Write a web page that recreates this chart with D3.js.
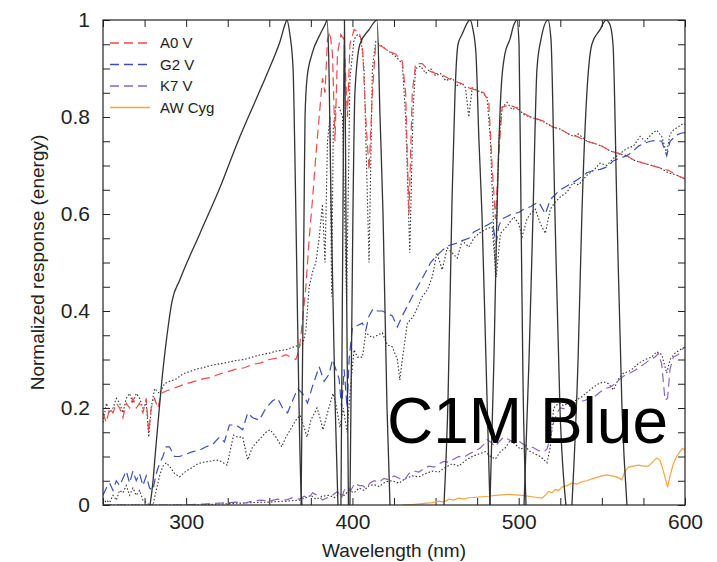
<!DOCTYPE html>
<html>
<head>
<meta charset="utf-8">
<script src="https://cdn.jsdelivr.net/npm/d3@7"></script>
<style>
body { margin: 0; background: #fff; }
text { font-family: "Liberation Sans", Arial, Helvetica, sans-serif; }
</style>
</head>
<body>
<script>
// wavelength (nm), normalized response
const a0v = [[250,0.19],[252,0.17],[254,0.2],[256,0.19],[258,0.21],[260,0.2],[262,0.18],[264,0.21],[266,0.2],[268,0.22],[270,0.2],[272,0.21],[274,0.19],[276,0.22],[277.5,0.15],[279,0.2],[281,0.22],[283,0.2],[285,0.23],[288,0.235],[292,0.24],[296,0.245],[300,0.25],[305,0.255],[310,0.26],[315,0.263],[320,0.27],[325,0.275],[330,0.28],[335,0.283],[340,0.29],[345,0.293],[350,0.3],[355,0.303],[360,0.31],[363,0.305],[366,0.3],[368,0.32],[370,0.38],[372,0.45],[374,0.55],[376,0.63],[378,0.72],[380,0.8],[382,0.88],[383.5,0.85],[385,0.96],[386.5,0.975],[388,0.93],[389.5,0.75],[391,0.93],[393,0.97],[395,0.96],[397,0.8],[398.5,0.95],[401,0.98],[404,0.975],[406,0.95],[408,0.8],[410,0.69],[412,0.85],[414,0.95],[418,0.945],[422,0.935],[426,0.93],[430,0.915],[432,0.85],[434,0.6],[436,0.85],[438,0.91],[442,0.91],[446,0.895],[450,0.89],[455,0.885],[460,0.875],[465,0.87],[470,0.86],[475,0.855],[479,0.85],[482,0.83],[484,0.7],[486,0.59],[488,0.72],[490,0.82],[494,0.825],[498,0.82],[502,0.81],[507,0.8],[512,0.795],[516,0.79],[520,0.78],[525,0.775],[530,0.765],[535,0.76],[541,0.75],[546,0.745],[550,0.74],[555,0.73],[560,0.725],[565,0.72],[570,0.71],[575,0.705],[580,0.7],[585,0.695],[590,0.69],[595,0.68],[600,0.673]];

const a0vAlt = [[250,0.17],[252,0.21],[254,0.19],[256,0.2],[258,0.22],[260,0.21],[262,0.19],[264,0.22],[266,0.23],[268,0.21],[270,0.23],[272,0.22],[274,0.2],[276,0.21],[277.5,0.14],[279,0.2],[281,0.24],[284,0.23],[287,0.25],[290,0.255],[294,0.26],[298,0.27],[302,0.275],[306,0.28],[310,0.283],[314,0.287],[318,0.29],[322,0.292],[326,0.295],[330,0.298],[335,0.3],[340,0.305],[345,0.31],[350,0.313],[355,0.318],[360,0.32],[364,0.325],[368,0.33],[370,0.33],[372,0.36],[374,0.45],[376,0.48],[378,0.5],[380,0.55],[382,0.62],[383.5,0.5],[385,0.75],[386.5,0.8],[387.5,0.43],[388.5,0.78],[390,0.82],[392,0.82],[394,0.8],[396.5,0.42],[398.5,0.88],[401,0.96],[403,0.97],[405,0.965],[407,0.9],[410,0.5],[412,0.9],[414,0.955],[418,0.945],[422,0.935],[426,0.925],[430,0.91],[432,0.8],[434.5,0.52],[436.5,0.82],[438,0.9],[441,0.905],[444,0.89],[447,0.9],[450,0.885],[453,0.89],[456,0.875],[460,0.88],[463,0.865],[466,0.87],[468,0.86],[470,0.8],[472,0.86],[475,0.855],[478,0.85],[481,0.84],[483,0.75],[486,0.47],[488,0.75],[490,0.82],[493,0.83],[496,0.815],[499,0.82],[503,0.805],[507,0.8],[511,0.795],[515,0.79],[520,0.78],[525,0.775],[530,0.765],[533,0.76],[536,0.765],[541,0.75],[546,0.745],[550,0.74],[555,0.73],[560,0.725],[565,0.72],[570,0.71],[575,0.705],[580,0.7],[585,0.695],[590,0.685],[595,0.68],[600,0.672]];

const g2v = [[250,0.02],[252,0.035],[254,0.045],[256,0.03],[258,0.05],[260,0.04],[262,0.055],[264,0.07],[266,0.045],[268,0.07],[270,0.05],[272,0.065],[274,0.04],[276,0.06],[278,0.035],[280,0.03],[282,0.065],[284,0.085],[286,0.1],[288,0.12],[290,0.12],[293,0.1],[296,0.1],[300,0.105],[304,0.11],[308,0.113],[312,0.12],[316,0.125],[320,0.14],[323,0.13],[326,0.165],[330,0.165],[334,0.155],[337,0.19],[340,0.18],[344,0.175],[348,0.2],[352,0.215],[355,0.22],[358,0.2],[361,0.19],[364,0.215],[367,0.24],[370,0.23],[373,0.21],[376,0.245],[380,0.285],[383,0.255],[386,0.27],[388,0.3],[390,0.28],[392,0.26],[393.5,0.2],[395,0.28],[396.8,0.2],[398,0.3],[400,0.367],[403,0.37],[406,0.375],[408,0.36],[410,0.39],[412.5,0.405],[415,0.4],[418,0.4],[421,0.395],[424,0.39],[427,0.367],[430,0.39],[433,0.41],[436,0.43],[440,0.455],[444,0.48],[447,0.5],[451,0.515],[454,0.525],[458,0.535],[463,0.54],[466,0.545],[470,0.55],[473,0.563],[477,0.57],[481,0.577],[484,0.583],[486.5,0.54],[488,0.575],[490,0.59],[493,0.595],[496,0.6],[500,0.603],[503,0.61],[507,0.615],[512,0.625],[516,0.6],[519,0.63],[525,0.65],[530,0.66],[535,0.67],[541,0.685],[545,0.69],[549,0.692],[553,0.697],[557,0.71],[561,0.715],[565,0.72],[569,0.73],[572,0.74],[575,0.745],[579,0.75],[583,0.752],[586,0.75],[589,0.72],[591,0.75],[595,0.763],[598,0.767],[600,0.768]];

const g2vAlt = [[250,0.0],[252,0.01],[254,0.005],[256,0.02],[258,0.01],[260,0.03],[262,0.025],[264,0.04],[266,0.02],[268,0.035],[270,0.02],[272,0.03],[274,0.01],[276,0.005],[278,0.0],[280,0.0],[282,0.03],[284,0.06],[286,0.08],[288,0.087],[290,0.08],[293,0.065],[296,0.058],[300,0.07],[304,0.078],[307,0.085],[310,0.088],[314,0.09],[318,0.093],[321,0.09],[324.6,0.082],[327,0.12],[328.5,0.144],[331,0.14],[334,0.14],[337,0.093],[340,0.12],[344,0.135],[348,0.15],[350.5,0.155],[354,0.14],[357.5,0.12],[360,0.14],[363.5,0.16],[366,0.175],[368.5,0.185],[371,0.16],[372.7,0.14],[375,0.175],[378.7,0.2],[380.5,0.18],[382.3,0.155],[385,0.19],[388.3,0.23],[390,0.21],[392.5,0.16],[394.5,0.2],[396.8,0.15],[399,0.25],[401,0.32],[403,0.305],[406,0.305],[408,0.355],[412,0.345],[415,0.35],[418,0.355],[421,0.33],[424,0.326],[427,0.3],[428.5,0.258],[430,0.3],[433,0.375],[436.5,0.388],[439.5,0.41],[442,0.43],[445,0.443],[448,0.47],[450.8,0.52],[454,0.485],[457,0.53],[460,0.52],[463,0.509],[466,0.545],[470,0.532],[473,0.55],[476,0.56],[481,0.57],[484,0.573],[486.5,0.47],[489,0.56],[493,0.575],[497,0.594],[500,0.58],[502,0.553],[505,0.59],[507,0.6],[510,0.61],[513,0.58],[516,0.56],[519,0.61],[522,0.625],[525,0.635],[529,0.645],[532.6,0.664],[536,0.66],[541,0.68],[545,0.69],[549,0.705],[553,0.7],[557,0.715],[561,0.725],[565,0.735],[569,0.74],[573,0.76],[576,0.75],[580,0.765],[583,0.773],[586,0.76],[589,0.725],[591,0.765],[593,0.773],[596,0.78],[599,0.787],[600,0.785]];

const k7v = [[250,0.0],[300,0.0],[310,0.002],[320,0.004],[330,0.006],[335,0.004],[340,0.008],[345,0.01],[350,0.008],[355,0.012],[360,0.01],[364,0.015],[368,0.012],[371,0.018],[374,0.015],[376,0.025],[379,0.02],[382,0.01],[385,0.015],[388,0.02],[391,0.028],[393.5,0.015],[395,0.03],[397,0.037],[399,0.03],[401.5,0.045],[404,0.04],[406,0.04],[408,0.035],[410.5,0.045],[413,0.05],[416,0.047],[419,0.055],[422,0.052],[425,0.06],[428,0.055],[431,0.05],[434,0.065],[437,0.07],[440,0.068],[443,0.075],[446,0.08],[449,0.078],[452,0.085],[455,0.09],[458,0.088],[461,0.095],[464,0.1],[467,0.098],[470,0.105],[473,0.11],[476.7,0.117],[479,0.125],[481,0.135],[483,0.13],[486,0.12],[488,0.13],[491,0.14],[494,0.135],[497,0.128],[500,0.132],[503,0.125],[506,0.12],[509,0.118],[512,0.112],[515,0.11],[517,0.115],[519,0.14],[521,0.17],[523,0.19],[525,0.2],[528,0.198],[531,0.205],[534,0.21],[537,0.213],[540,0.216],[543,0.22],[546,0.225],[549,0.233],[552,0.24],[555,0.243],[558,0.25],[561,0.26],[564,0.268],[567,0.272],[570,0.278],[573,0.285],[576,0.292],[579,0.3],[582,0.305],[584,0.313],[586,0.29],[588,0.216],[589.5,0.22],[591,0.28],[593,0.305],[596,0.31],[598,0.32],[600,0.326]];

const k7vAlt = [[250,0.0],[305,0.0],[320,0.002],[340,0.005],[350,0.006],[360,0.008],[368,0.01],[372,0.015],[375,0.02],[378,0.012],[382,0.018],[386,0.02],[389,0.015],[392,0.022],[395,0.02],[398,0.03],[401,0.025],[404,0.035],[407,0.03],[410,0.04],[413,0.042],[416,0.038],[420,0.048],[424,0.05],[428,0.045],[432,0.055],[436,0.06],[440,0.058],[444,0.065],[448,0.07],[452,0.068],[456,0.078],[460,0.085],[464,0.08],[468,0.092],[472,0.1],[476,0.105],[480,0.11],[483,0.1],[486,0.095],[489,0.11],[492,0.118],[495,0.134],[498,0.125],[501,0.115],[504,0.12],[507,0.11],[510,0.105],[513,0.1],[517,0.087],[519,0.12],[521,0.2],[524,0.21],[527,0.205],[530,0.21],[534,0.215],[538,0.223],[542,0.235],[545,0.243],[548,0.25],[551,0.254],[554,0.25],[557,0.237],[560,0.26],[563,0.272],[566,0.275],[569,0.282],[572,0.292],[576,0.3],[580,0.305],[583,0.316],[586,0.31],[589,0.272],[591,0.3],[594,0.313],[597,0.32],[600,0.326]];

const awCyg = [[430,0.0],[436,0.001],[442,0.003],[448,0.005],[452,0.008],[455,0.006],[458,0.012],[461,0.01],[464,0.014],[467,0.012],[470,0.015],[474,0.016],[478,0.017],[482,0.018],[486,0.02],[490,0.021],[494,0.022],[498,0.021],[502,0.02],[506,0.018],[510,0.016],[514,0.014],[516,0.02],[518,0.028],[520,0.025],[522,0.032],[524,0.03],[526,0.037],[529,0.04],[532,0.045],[535,0.043],[538,0.048],[541,0.05],[544,0.054],[547,0.057],[550,0.06],[553,0.062],[556,0.06],[559,0.058],[562,0.052],[564,0.07],[566,0.078],[569,0.08],[572,0.082],[575,0.08],[578,0.08],[581,0.09],[583,0.097],[585,0.092],[587,0.07],[589.5,0.037],[591,0.06],[593,0.085],[595,0.1],[597,0.11],[598.5,0.117],[600,0.113]];

// filter transmission curves
const filter1 = [[278.3,0],[280.1,0.05],[281.3,0.1],[283.1,0.17],[286.1,0.28],[288.5,0.35],[291.5,0.42],[296.3,0.465],[308.3,0.56],[320.4,0.655],[330.6,0.745],[344.4,0.855],[352.2,0.918],[356.4,0.955],[359.4,0.99],[360.6,1.0],[362.4,0.97],[364.3,0.9],[365.5,0.7],[366.7,0.45],[367.9,0.2],[369.1,0.03],[369.7,0]];
const filter2 = [[369.1,0],[370,0.3],[370.9,0.6],[371.5,0.8],[372.7,0.88],[375.7,0.93],[380.5,0.97],[384.1,0.995],[384.7,1.0],[385.9,0.9],[387.1,0.63],[389.5,0.22],[391.3,0]];
const filter3 = [[393.1,0],[394.3,0.6],[395.2,1.0],[396.1,0.6],[397.6,0]];
const filter4 = [[398.5,0],[400.3,0.6],[401.5,0.85],[404.5,0.95],[410,0.98],[414.8,1.0],[416.6,0.8],[418.4,0.6],[420.8,0.2],[422.6,0]];
const filter5 = [[455.05,0],[457.5,0.22],[459.9,0.63],[461.7,0.85],[463.5,0.95],[465.9,0.97],[470.7,1.0],[472.5,0.98],[474.3,0.93],[476.1,0.75],[477.9,0.6],[480.3,0.3],[482.7,0]];
const filter6 = [[482.7,0],[485.1,0.3],[486.9,0.6],[489.3,0.85],[491.7,0.93],[494.7,0.96],[497.1,0.99],[498.9,1.0],[500.2,0.95],[501.4,0.6],[502.6,0.25],[504.4,0]];
const filter7 = [[503.2,0],[506.2,0.3],[508.6,0.6],[511,0.9],[513.4,0.96],[517.6,1.0],[519.4,0.96],[521.8,0.6],[524.8,0.2],[528.4,0]];
const filter8 = [[532,0],[535.7,0.3],[538,0.6],[541,0.85],[544,0.95],[548.9,0.98],[552.5,1.0],[554.9,0.99],[556.7,0.95],[559.1,0.6],[562.1,0.2],[565.1,0]];

const legendLabels = ['A0 V', 'G2 V', 'K7 V', 'AW Cyg'];
const legendColors = ['#ee4a4a', '#3c4fb8', '#8c66bf', '#f5a443'];
const xLabelTicks = [300, 400, 500, 600];
const yLabelTicks = [0, 0.2, 0.4, 0.6, 0.8, 1];

function draw() {
    const margin = {top: 20, right: 32, bottom: 57, left: 103};
    const width = 717 - margin.left - margin.right;
    const height = 562 - margin.top - margin.bottom;

    const x = d3.scaleLinear().domain([250, 600]).range([0, width]);
    const y = d3.scaleLinear().domain([0, 1]).range([height, 0]);

    const svg = d3.select('body').append('svg')
        .attr('width', 717)
        .attr('height', 562);

    svg.append('defs').append('clipPath').attr('id', 'clip')
        .append('rect').attr('width', width).attr('height', height);

    const main = svg.append('g')
        .attr('transform', 'translate(' + margin.left + ',' + margin.top + ')');

    const xMinor = d3.range(250, 601, 25);
    const yMinor = d3.range(0, 1.0001, 0.05).map(v => +v.toFixed(2));
    const xFmt = d => xLabelTicks.includes(d) ? String(d) : '';
    const yFmt = d => yLabelTicks.some(v => Math.abs(v - d) < 1e-6) ? String(+d.toFixed(1)) : '';

    const styleAxis = g => {
        g.select('.domain').remove();
        g.selectAll('.tick line').attr('stroke', '#222');
        g.selectAll('text').attr('font-size', 21).attr('fill', '#222');
    };

    main.append('g')
        .attr('transform', 'translate(0,' + height + ')')
        .call(d3.axisBottom(x).tickValues(xMinor).tickSize(-7).tickPadding(9).tickFormat(xFmt))
        .call(styleAxis);
    main.append('g')
        .call(d3.axisTop(x).tickValues(xMinor).tickSize(-7).tickFormat(''))
        .call(styleAxis);
    main.append('g')
        .call(d3.axisLeft(y).tickValues(yMinor).tickSize(-7).tickPadding(13).tickFormat(yFmt))
        .call(styleAxis);
    main.append('g')
        .attr('transform', 'translate(' + width + ',0)')
        .call(d3.axisRight(y).tickValues(yMinor).tickSize(-7).tickFormat(''))
        .call(styleAxis);

    const plot = main.append('g').attr('clip-path', 'url(#clip)');
    const line = d3.line().x(d => x(d[0])).y(d => y(d[1]));
    const smooth = d3.line().x(d => x(d[0])).y(d => y(d[1])).curve(d3.curveMonotoneX);

    // black dotted companions
    [a0vAlt, g2vAlt, k7vAlt].forEach(s => {
        plot.append('path').datum(s)
            .attr('d', line)
            .attr('fill', 'none')
            .attr('stroke', '#333')
            .attr('stroke-width', 1.1)
            .attr('stroke-dasharray', '1.5,2');
    });

    [a0v, g2v, k7v].forEach((s, i) => {
        plot.append('path').datum(s)
            .attr('d', line)
            .attr('fill', 'none')
            .attr('stroke', legendColors[i])
            .attr('stroke-width', 1.2)
            .attr('stroke-dasharray', '9,5');
    });

    plot.append('path').datum(awCyg)
        .attr('d', line)
        .attr('fill', 'none')
        .attr('stroke', legendColors[3])
        .attr('stroke-width', 1.2);

    [filter1, filter2, filter3, filter4, filter5, filter6, filter7, filter8].forEach(f => {
        plot.append('path').datum(f)
            .attr('d', smooth)
            .attr('fill', 'none')
            .attr('stroke', '#333')
            .attr('stroke-width', 1.3);
    });

    main.append('rect')
        .attr('width', width)
        .attr('height', height)
        .attr('fill', 'none')
        .attr('stroke', '#222')
        .attr('stroke-width', 1.2);

    // legend
    const legend = main.append('g').attr('transform', 'translate(7,23)');
    legendLabels.forEach((name, i) => {
        const row = legend.append('g').attr('transform', 'translate(0,' + (i * 21.5) + ')');
        const ln = row.append('line')
            .attr('x1', 0).attr('x2', i === 3 ? 40 : 37)
            .attr('y1', 0).attr('y2', 0)
            .style('stroke', legendColors[i])
            .style('stroke-width', 1.4);
        if (i < 3) ln.style('stroke-dasharray', '9,5');
        row.append('text')
            .attr('x', 50).attr('dy', '0.35em')
            .attr('font-size', 15)
            .attr('fill', '#222')
            .text(name);
    });

    main.append('text')
        .attr('x', width - 17)
        .attr('y', 423)
        .attr('text-anchor', 'end')
        .attr('font-size', 64)
        .attr('fill', '#000')
        .text('C1M Blue');

    svg.append('text')
        .attr('x', margin.left + width / 2)
        .attr('y', 557)
        .attr('text-anchor', 'middle')
        .attr('font-size', 19)
        .attr('fill', '#222')
        .text('Wavelength (nm)');

    svg.append('text')
        .attr('transform', 'translate(44,' + (margin.top + height / 2) + ') rotate(-90)')
        .attr('text-anchor', 'middle')
        .attr('font-size', 19)
        .attr('fill', '#222')
        .text('Normalized response (energy)');
}

document.addEventListener('DOMContentLoaded', () => draw());
</script>
</body>
</html>
